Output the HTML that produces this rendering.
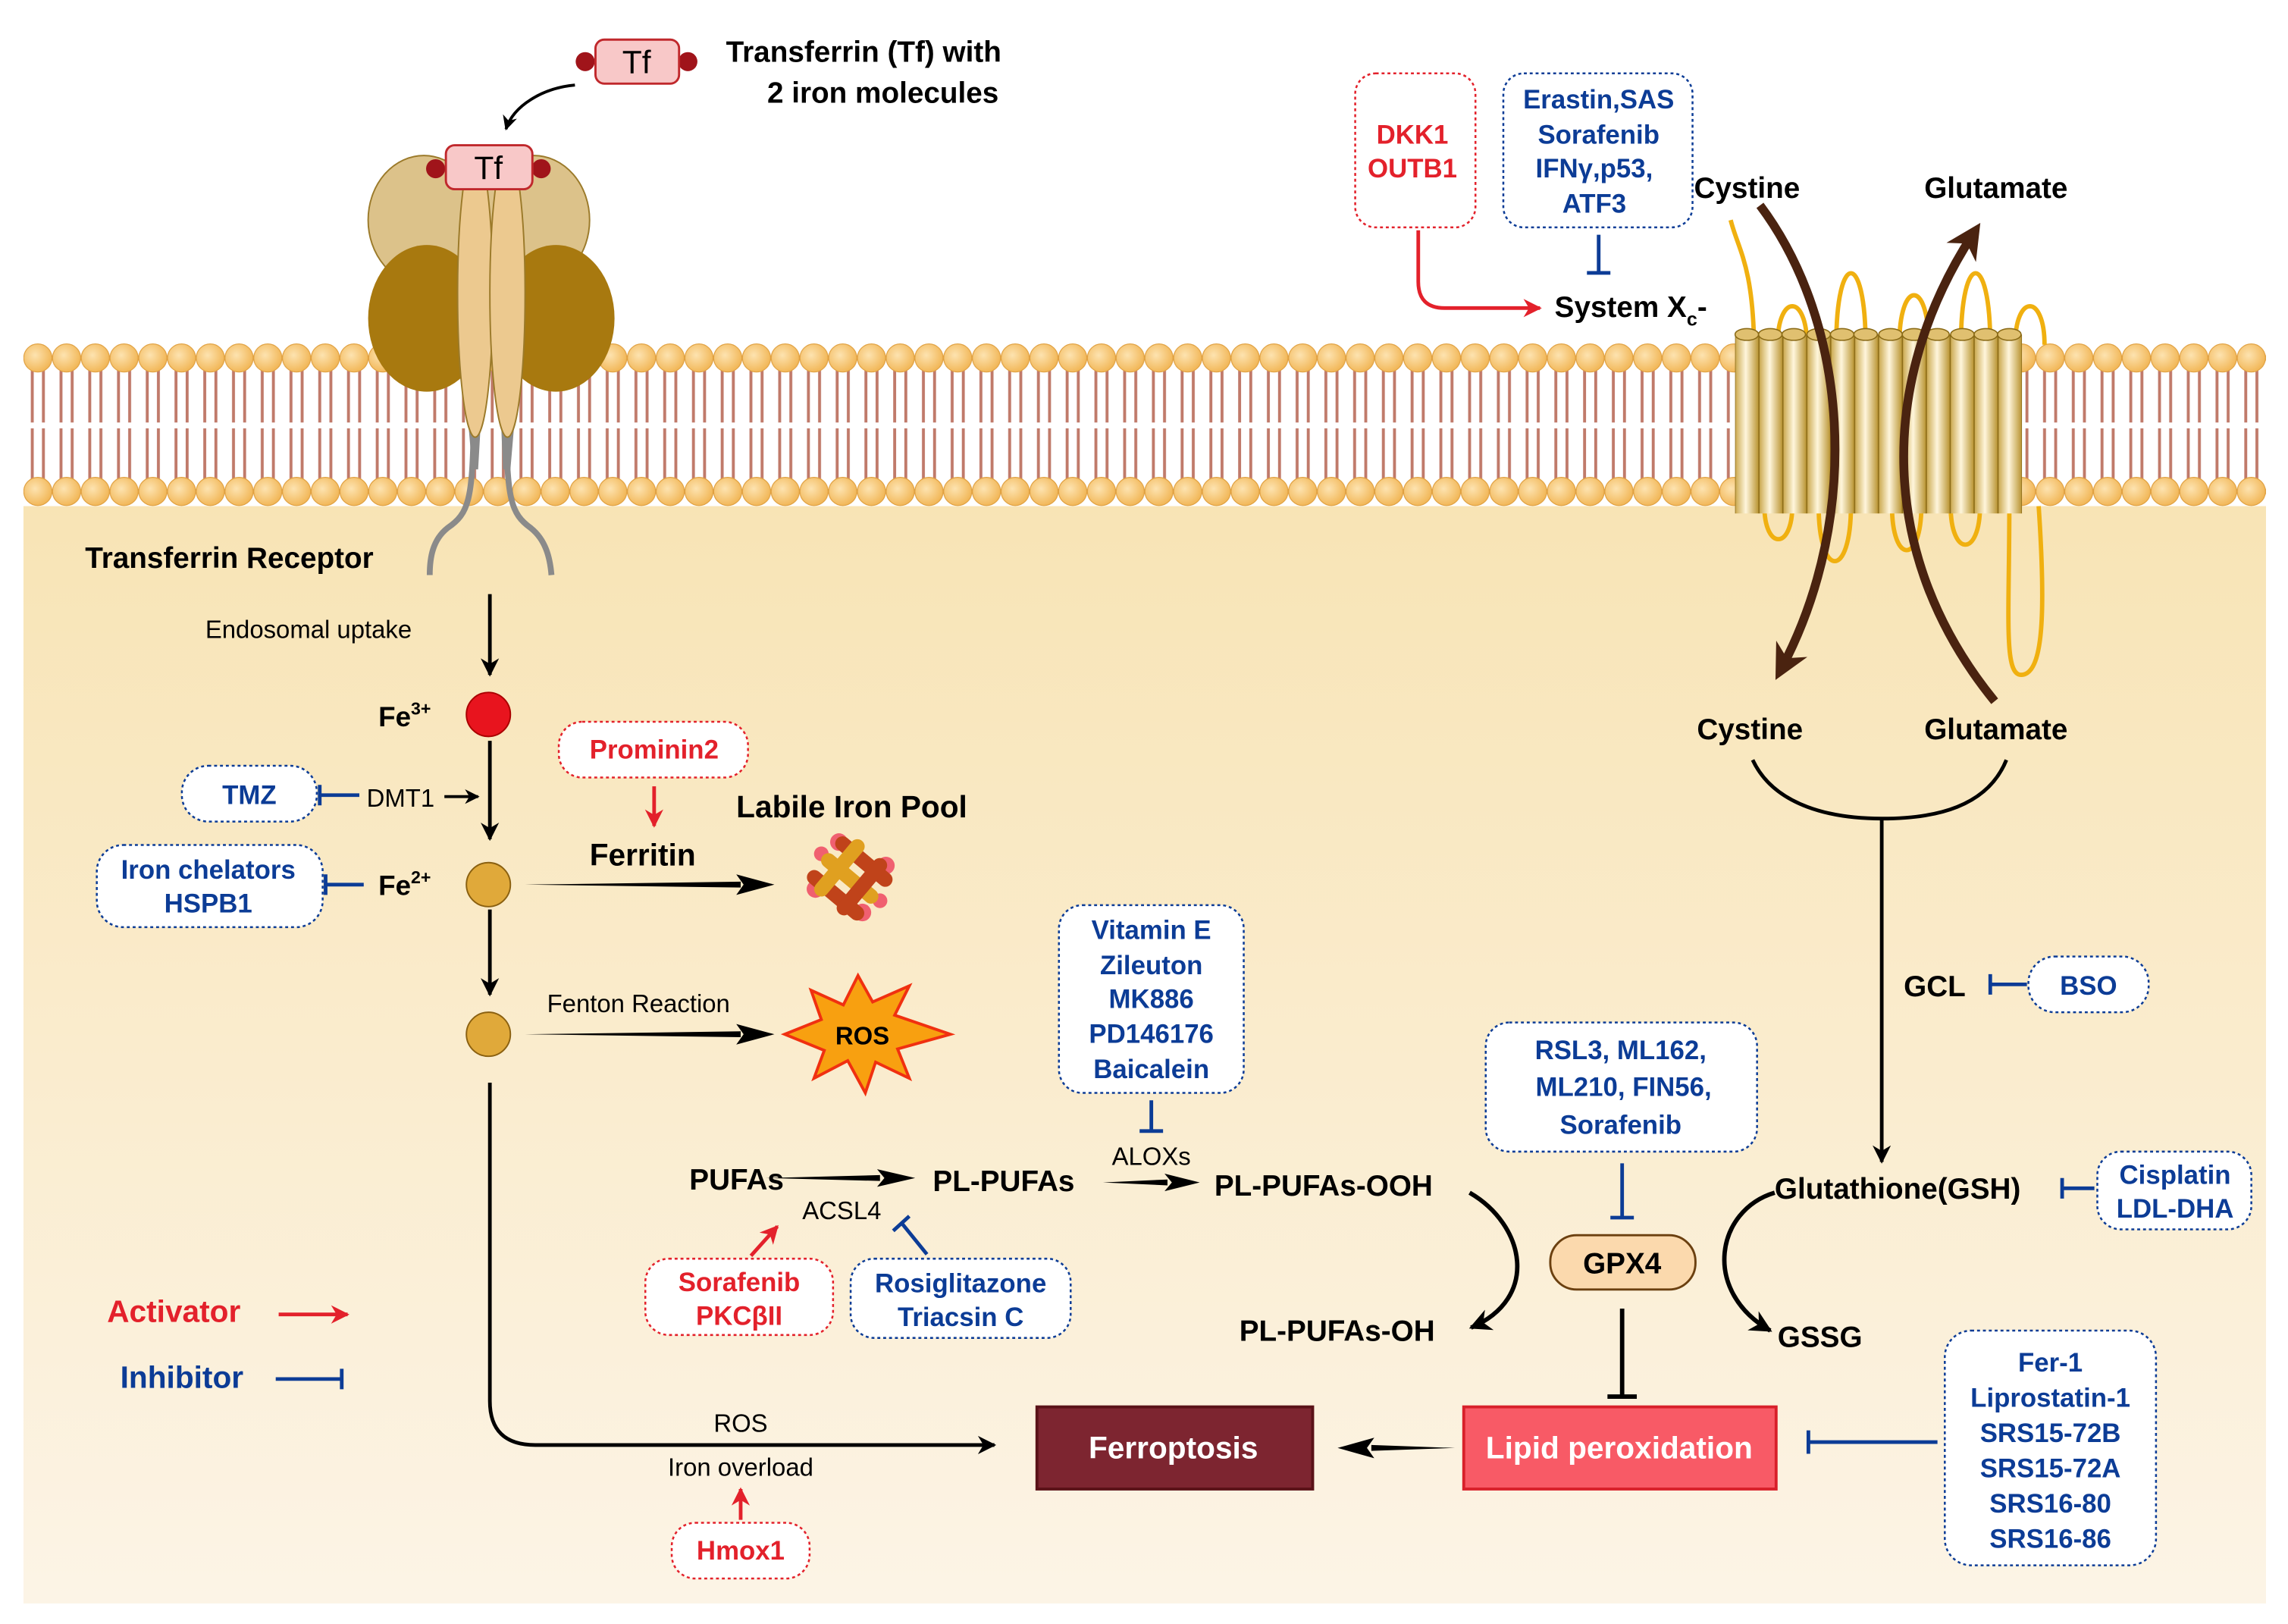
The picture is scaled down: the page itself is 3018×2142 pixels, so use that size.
<!DOCTYPE html>
<html><head><meta charset="utf-8"><style>
html,body{margin:0;padding:0;background:#fff}
svg{display:block}
text{font-family:"Liberation Sans",Arial,sans-serif}
.b{font-weight:bold}
.bl{fill:#0c3c96;font-weight:bold}
.rd{fill:#e3212b;font-weight:bold}
</style></head><body>
<svg width="3018" height="2142" viewBox="0 0 1560 1107" preserveAspectRatio="none" xmlns="http://www.w3.org/2000/svg">
<defs>
<linearGradient id="cyto" x1="0" y1="0" x2="0" y2="1">
<stop offset="0" stop-color="#f8e4b5"/><stop offset="1" stop-color="#fcf4e6"/></linearGradient>
<radialGradient id="head" cx="0.4" cy="0.4" r="0.6"><stop offset="0" stop-color="#fde3b0"/><stop offset="1" stop-color="#f2b85a"/></radialGradient>
<pattern id="heads" x="16" y="0" width="19.6" height="1107" patternUnits="userSpaceOnUse">
<circle cx="9.8" cy="244" r="9.6" fill="url(#head)" stroke="#e0a040" stroke-width="0.6"/>
<circle cx="9.8" cy="335" r="9.6" fill="url(#head)" stroke="#e0a040" stroke-width="0.6"/>
</pattern>
<pattern id="tails" x="16" y="0" width="19.6" height="1107" patternUnits="userSpaceOnUse">
<rect x="5" y="252" width="2" height="36" fill="#c07a6a"/><rect x="12.6" y="252" width="2" height="36" fill="#c07a6a"/>
<rect x="5" y="292" width="2" height="36" fill="#c07a6a"/><rect x="12.6" y="292" width="2" height="36" fill="#c07a6a"/>
</pattern>
<linearGradient id="cyl" x1="0" y1="0" x2="1" y2="0"><stop offset="0" stop-color="#c9a64a"/><stop offset="0.45" stop-color="#fff6dc"/><stop offset="1" stop-color="#b8922e"/></linearGradient>
<pattern id="cyls" x="1183" y="0" width="16.3" height="1107" patternUnits="userSpaceOnUse">
<rect x="0" y="0" width="16.3" height="1107" fill="url(#cyl)" stroke="#8a6a16" stroke-width="0.8"/>
</pattern>
<marker id="ah" viewBox="0 0 10 10" refX="9" refY="5" markerWidth="5" markerHeight="5" orient="auto"><path d="M0,0 L10,5 L0,10 L3,5z" fill="#000"/></marker>
<marker id="ahr" viewBox="0 0 10 10" refX="9" refY="5" markerWidth="5" markerHeight="5" orient="auto"><path d="M0,0 L10,5 L0,10 L3,5z" fill="#e3212b"/></marker>
<marker id="ahb" viewBox="0 0 10 10" refX="6" refY="5" markerWidth="4" markerHeight="4" orient="auto"><path d="M0,0 L10,5 L0,10 L3,5z" fill="#4a2310"/></marker>
</defs>
<rect width="1560" height="1107" fill="#fff"/>
<rect x="16" y="345" width="1529" height="748" fill="url(#cyto)"/>
<!-- membrane -->
<rect x="16" y="230" width="1529" height="116" fill="url(#tails)"/>
<rect x="16" y="230" width="1529" height="116" fill="url(#heads)"/>
<!-- transferrin receptor -->
<path d="M323,290 C322,340 320,350 305,360 C295,368 293,380 293,392" fill="none" stroke="#8a8a8a" stroke-width="4"/>
<path d="M345,290 C346,340 348,350 362,360 C372,368 375,380 376,392" fill="none" stroke="#8a8a8a" stroke-width="4"/>
<path d="M316,250 L330,250 L326,320 L322,320z M340,250 L354,250 L348,320 L343,320z" fill="#8a8a8a"/>
<ellipse cx="289" cy="150" rx="38" ry="44" fill="#dcc28a" stroke="#9b7a2a" stroke-width="1"/>
<ellipse cx="364" cy="150" rx="38" ry="44" fill="#dcc28a" stroke="#9b7a2a" stroke-width="1"/>
<ellipse cx="291" cy="217" rx="40" ry="50" fill="#a8790f"/>
<ellipse cx="379" cy="217" rx="40" ry="50" fill="#a8790f"/>
<ellipse cx="324" cy="200" rx="12" ry="98" fill="#ecc98f" stroke="#9b7a2a" stroke-width="1"/>
<ellipse cx="346" cy="200" rx="12" ry="98" fill="#ecc98f" stroke="#9b7a2a" stroke-width="1"/>
<circle cx="297" cy="115" r="6.5" fill="#a0141a"/><circle cx="369" cy="115" r="6.5" fill="#a0141a"/>
<rect x="304" y="99" width="59" height="30" rx="6" fill="#f8c8c8" stroke="#c0282c" stroke-width="1.5"/>
<text x="333" y="122" font-size="22" text-anchor="middle">Tf</text>
<circle cx="399" cy="42" r="6.5" fill="#a0141a"/><circle cx="469" cy="42" r="6.5" fill="#a0141a"/>
<rect x="406" y="27" width="57" height="30" rx="6" fill="#f8c8c8" stroke="#c0282c" stroke-width="1.5"/>
<text x="434" y="50" font-size="22" text-anchor="middle">Tf</text>
<path d="M392,58 C370,60 350,72 345,88" fill="none" stroke="#000" stroke-width="2" marker-end="url(#ah)"/>
<text x="495" y="42" font-size="20" class="b">Transferrin (Tf) with</text>
<text x="602" y="70" font-size="20" class="b" text-anchor="middle">2 iron molecules</text>
<text x="58" y="387" font-size="20" class="b">Transferrin Receptor</text>
<!-- xCT transporter -->
<g fill="none" stroke="#f0b010" stroke-width="3">
<path d="M1180,150 C1185,170 1195,180 1196,235"/>
<path d="M1212,235 C1212,200 1232,200 1232,235"/>
<path d="M1252,235 C1252,170 1272,170 1272,235"/>
<path d="M1295,235 C1295,190 1315,190 1315,235"/>
<path d="M1337,235 C1337,170 1357,170 1357,235"/>
<path d="M1374,235 C1374,200 1394,200 1394,235"/>
<path d="M1203,345 C1203,375 1222,375 1222,345"/>
<path d="M1240,345 C1240,395 1262,395 1262,345"/>
<path d="M1290,345 C1290,385 1310,385 1310,345"/>
<path d="M1330,345 C1330,380 1350,380 1350,345"/>
<path d="M1370,345 C1370,420 1366,460 1378,460 C1393,460 1395,420 1390,345"/>
</g>
<g>
<rect x="1183" y="228" width="195.6" height="122" fill="url(#cyls)"/>
<g fill="#e0c070" stroke="#8a6a16" stroke-width="0.8">
<ellipse cx="1191" cy="228" rx="8" ry="4"/><ellipse cx="1207" cy="228" rx="8" ry="4"/><ellipse cx="1223" cy="228" rx="8" ry="4"/><ellipse cx="1240" cy="228" rx="8" ry="4"/><ellipse cx="1256" cy="228" rx="8" ry="4"/><ellipse cx="1272" cy="228" rx="8" ry="4"/><ellipse cx="1289" cy="228" rx="8" ry="4"/><ellipse cx="1305" cy="228" rx="8" ry="4"/><ellipse cx="1321" cy="228" rx="8" ry="4"/><ellipse cx="1338" cy="228" rx="8" ry="4"/><ellipse cx="1354" cy="228" rx="8" ry="4"/><ellipse cx="1370" cy="228" rx="8" ry="4"/></g>
</g>
<path d="M1200,140 C1260,220 1270,350 1215,455" fill="none" stroke="#4a2310" stroke-width="6" marker-end="url(#ahb)"/>
<path d="M1360,478 C1280,380 1280,260 1345,160" fill="none" stroke="#4a2310" stroke-width="6" marker-end="url(#ahb)"/>
<text x="1155" y="135" font-size="20" class="b">Cystine</text>
<text x="1312" y="135" font-size="20" class="b">Glutamate</text>
<text x="1157" y="504" font-size="20" class="b">Cystine</text>
<text x="1312" y="504" font-size="20" class="b">Glutamate</text>
<path d="M1195,518 C1210,550 1250,558 1283,558 C1320,558 1355,550 1368,518" fill="none" stroke="#000" stroke-width="2.5"/>
<line x1="1283" y1="558" x2="1283" y2="792" stroke="#000" stroke-width="2.5" marker-end="url(#ah)"/>
<text x="1060" y="216" font-size="20" class="b">System X<tspan font-size="13" dy="6">c</tspan><tspan dy="-6">-</tspan></text>
<!-- top boxes -->
<rect x="924" y="50" width="82" height="105" rx="14" fill="#fff" stroke="#e3212b" stroke-width="1.3" stroke-dasharray="2,2"/>
<text x="963" y="98" font-size="18" class="rd" text-anchor="middle">DKK1</text>
<text x="963" y="121" font-size="18" class="rd" text-anchor="middle">OUTB1</text>
<path d="M967,157 L967,192 Q967,210 985,210 L1050,210" fill="none" stroke="#e3212b" stroke-width="2.5" marker-end="url(#ahr)"/>
<rect x="1025" y="50" width="129" height="105" rx="14" fill="#fff" stroke="#0c3c96" stroke-width="1.3" stroke-dasharray="2,2"/>
<g font-size="18" class="bl" text-anchor="middle"><text x="1090" y="74">Erastin,SAS</text><text x="1090" y="98">Sorafenib</text><text x="1087" y="121">IFNγ,p53,</text><text x="1087" y="145">ATF3</text></g>
<path d="M1090,160V186M1082,186H1098" stroke="#0c3c96" stroke-width="2.5"/>
<!-- iron path -->
<text x="140" y="435" font-size="17">Endosomal uptake</text>
<line x1="334" y1="405" x2="334" y2="460" stroke="#000" stroke-width="2.5" marker-end="url(#ah)"/>
<text x="258" y="495" font-size="19" class="b">Fe<tspan font-size="12" dy="-8">3+</tspan></text>
<circle cx="333" cy="487" r="15" fill="#e8141e" stroke="#a00" stroke-width="1"/>
<line x1="334" y1="505" x2="334" y2="572" stroke="#000" stroke-width="2.5" marker-end="url(#ah)"/>
<rect x="124" y="522" width="92" height="38" rx="18" fill="#fff" stroke="#0c3c96" stroke-width="1.3" stroke-dasharray="2,2"/>
<text x="170" y="548" font-size="18" class="bl" text-anchor="middle">TMZ</text>
<path d="M218,542H245M218,535V549" stroke="#0c3c96" stroke-width="2.5"/>
<text x="250" y="550" font-size="17">DMT1</text>
<line x1="303" y1="543" x2="326" y2="543" stroke="#000" stroke-width="2" marker-end="url(#ah)"/>
<rect x="66" y="576" width="154" height="56" rx="18" fill="#fff" stroke="#0c3c96" stroke-width="1.3" stroke-dasharray="2,2"/>
<text x="142" y="599" font-size="18" class="bl" text-anchor="middle">Iron chelators</text>
<text x="142" y="622" font-size="18" class="bl" text-anchor="middle">HSPB1</text>
<path d="M222,603H248M222,596V610" stroke="#0c3c96" stroke-width="2.5"/>
<text x="258" y="610" font-size="19" class="b">Fe<tspan font-size="12" dy="-8">2+</tspan></text>
<circle cx="333" cy="603" r="15" fill="#e0a93a" stroke="#8a6010" stroke-width="1"/>
<line x1="334" y1="620" x2="334" y2="678" stroke="#000" stroke-width="2.5" marker-end="url(#ah)"/>
<circle cx="333" cy="705" r="15" fill="#e0a93a" stroke="#8a6010" stroke-width="1"/>
<path d="M358,603 L505,601 L505,605z M502,596 L528,603 L502,610 L507,603z" fill="#000"/>
<text x="402" y="590" font-size="21" class="b">Ferritin</text>
<text x="502" y="557" font-size="21" class="b">Labile Iron Pool</text>
<g transform="translate(580,598)">
<circle cx="-24" cy="8" r="6" fill="#f06070"/><circle cx="24" cy="-8" r="6" fill="#f06070"/><circle cx="8" cy="24" r="6" fill="#f06070"/><circle cx="-8" cy="-24" r="6" fill="#f06070"/><circle cx="20" cy="16" r="5" fill="#f06070"/><circle cx="-20" cy="-16" r="5" fill="#f06070"/>
<g transform="rotate(40)"><rect x="-24" y="-19" width="48" height="10" rx="5" fill="#c0431a"/><rect x="-24" y="-4" width="48" height="10" rx="5" fill="#e0a020"/><rect x="-24" y="11" width="48" height="10" rx="5" fill="#c0431a"/></g>
<g transform="rotate(-50)"><rect x="-24" y="-15" width="48" height="10" rx="5" fill="#e0a020"/><rect x="-24" y="5" width="48" height="10" rx="5" fill="#c0431a"/></g>
</g>
<rect x="381" y="492" width="129" height="38" rx="16" fill="#fff" stroke="#e3212b" stroke-width="1.3" stroke-dasharray="2,2"/>
<text x="446" y="517" font-size="18" class="rd" text-anchor="middle">Prominin2</text>
<line x1="446" y1="536" x2="446" y2="563" stroke="#e3212b" stroke-width="2.5" marker-end="url(#ahr)"/>
<text x="373" y="690" font-size="17">Fenton Reaction</text>
<path d="M358,705 L505,703 L505,707z M502,698 L528,705 L502,712 L507,705z" fill="#000"/>
<polygon points="535,705 560,695 553,675 575,685 585,665 595,683 620,672 610,692 648,705 612,715 620,735 597,724 590,745 578,723 555,735 562,716" fill="#f8a010" stroke="#f03010" stroke-width="2"/>
<text x="588" y="712" font-size="17" class="b" text-anchor="middle">ROS</text>
<path d="M334,738 L334,955 Q334,985 365,985 L678,985" fill="none" stroke="#000" stroke-width="2.5" marker-end="url(#ah)"/>
<text x="505" y="976" font-size="17" text-anchor="middle">ROS</text>
<text x="505" y="1006" font-size="17" text-anchor="middle">Iron overload</text>
<rect x="458" y="1038" width="94" height="38" rx="16" fill="#fff" stroke="#e3212b" stroke-width="1.3" stroke-dasharray="2,2"/>
<text x="505" y="1063" font-size="18" class="rd" text-anchor="middle">Hmox1</text>
<line x1="505" y1="1036" x2="505" y2="1015" stroke="#e3212b" stroke-width="2.5" marker-end="url(#ahr)"/>
<!-- legend -->
<text x="73" y="901" font-size="21" class="rd">Activator</text>
<line x1="190" y1="896" x2="237" y2="896" stroke="#e3212b" stroke-width="2.5" marker-end="url(#ahr)"/>
<text x="82" y="946" font-size="21" class="bl">Inhibitor</text>
<path d="M188,940H233M233,933V947" stroke="#0c3c96" stroke-width="2.5"/>
<!-- lipid pathway -->
<rect x="722" y="617" width="126" height="128" rx="16" fill="#fff" stroke="#0c3c96" stroke-width="1.3" stroke-dasharray="2,2"/>
<g font-size="18" class="bl" text-anchor="middle"><text x="785" y="640">Vitamin E</text><text x="785" y="664">Zileuton</text><text x="785" y="687">MK886</text><text x="785" y="711">PD146176</text><text x="785" y="735">Baicalein</text></g>
<path d="M785,750V771M777,771H793" stroke="#0c3c96" stroke-width="2.5"/>
<text x="785" y="794" font-size="17" text-anchor="middle">ALOXs</text>
<text x="470" y="811" font-size="20" class="b">PUFAs</text>
<path d="M522,803 L600,801 L600,805z M598,797 L624,803 L598,809 L603,803z" fill="#000"/>
<text x="636" y="812" font-size="20" class="b">PL-PUFAs</text>
<text x="547" y="831" font-size="17">ACSL4</text>
<path d="M752,806 L796,804 L796,808z M794,800 L818,806 L794,812 L799,806z" fill="#000"/>
<text x="828" y="815" font-size="20" class="b">PL-PUFAs-OOH</text>
<rect x="440" y="858" width="128" height="52" rx="16" fill="#fff" stroke="#e3212b" stroke-width="1.3" stroke-dasharray="2,2"/>
<text x="504" y="880" font-size="18" class="rd" text-anchor="middle">Sorafenib</text>
<text x="504" y="903" font-size="18" class="rd" text-anchor="middle">PKCβII</text>
<line x1="512" y1="856" x2="530" y2="836" stroke="#e3212b" stroke-width="2.5" marker-end="url(#ahr)"/>
<rect x="580" y="858" width="150" height="54" rx="16" fill="#fff" stroke="#0c3c96" stroke-width="1.3" stroke-dasharray="2,2"/>
<text x="655" y="881" font-size="18" class="bl" text-anchor="middle">Rosiglitazone</text>
<text x="655" y="904" font-size="18" class="bl" text-anchor="middle">Triacsin C</text>
<path d="M632,855L615,834M609,839L620,829" stroke="#0c3c96" stroke-width="2.5"/>
<path d="M1002,813 C1040,835 1050,885 1003,905" fill="none" stroke="#000" stroke-width="3" marker-end="url(#ah)"/>
<text x="845" y="914" font-size="20" class="b">PL-PUFAs-OH</text>
<rect x="1013" y="697" width="185" height="88" rx="16" fill="#fff" stroke="#0c3c96" stroke-width="1.3" stroke-dasharray="2,2"/>
<g font-size="18" class="bl" text-anchor="middle"><text x="1105" y="722">RSL3, ML162,</text><text x="1107" y="747">ML210, FIN56,</text><text x="1105" y="773">Sorafenib</text></g>
<path d="M1106,793V830M1098,830H1114" stroke="#0c3c96" stroke-width="2.5"/>
<rect x="1057" y="842" width="99" height="37" rx="18" fill="#fbd9ad" stroke="#6b4010" stroke-width="1.5"/>
<text x="1106" y="868" font-size="20" class="b" text-anchor="middle">GPX4</text>
<path d="M1106,892V952M1096,952H1116" stroke="#000" stroke-width="3"/>
<text x="1210" y="817" font-size="20" class="b">Glutathione(GSH)</text>
<path d="M1210,813 C1170,825 1160,880 1207,907" fill="none" stroke="#000" stroke-width="3" marker-end="url(#ah)"/>
<text x="1212" y="918" font-size="20" class="b">GSSG</text>
<rect x="1430" y="785" width="105" height="53" rx="16" fill="#fff" stroke="#0c3c96" stroke-width="1.3" stroke-dasharray="2,2"/>
<text x="1483" y="807" font-size="18" class="bl" text-anchor="middle">Cisplatin</text>
<text x="1483" y="830" font-size="18" class="bl" text-anchor="middle">LDL-DHA</text>
<path d="M1428,810H1406M1406,803V817" stroke="#0c3c96" stroke-width="2.5"/>
<text x="1298" y="679" font-size="20" class="b">GCL</text>
<path d="M1382,671H1357M1357,664V678" stroke="#0c3c96" stroke-width="2.5"/>
<rect x="1383" y="652" width="82" height="38" rx="18" fill="#fff" stroke="#0c3c96" stroke-width="1.3" stroke-dasharray="2,2"/>
<text x="1424" y="678" font-size="18" class="bl" text-anchor="middle">BSO</text>
<!-- outcome -->
<rect x="707" y="959" width="188" height="56" fill="#7d2530" stroke="#5a1218" stroke-width="2"/>
<text x="800" y="994" font-size="21" class="b" fill="#fff" text-anchor="middle">Ferroptosis</text>
<path d="M992,987 L935,985 L935,989z M937,980 L912,987 L937,994 L932,987z" fill="#000"/>
<rect x="998" y="959" width="213" height="56" fill="#f85a66" stroke="#d8202a" stroke-width="2"/>
<text x="1104" y="994" font-size="21" class="b" fill="#fff" text-anchor="middle">Lipid peroxidation</text>
<path d="M1321,983H1233M1233,975V991" stroke="#0c3c96" stroke-width="2.5"/>
<rect x="1326" y="907" width="144" height="160" rx="18" fill="#fff" stroke="#0c3c96" stroke-width="1.3" stroke-dasharray="2,2"/>
<g font-size="18" class="bl" text-anchor="middle"><text x="1398" y="935">Fer-1</text><text x="1398" y="959">Liprostatin-1</text><text x="1398" y="983">SRS15-72B</text><text x="1398" y="1007">SRS15-72A</text><text x="1398" y="1031">SRS16-80</text><text x="1398" y="1055">SRS16-86</text></g>
</svg>
</body></html>
